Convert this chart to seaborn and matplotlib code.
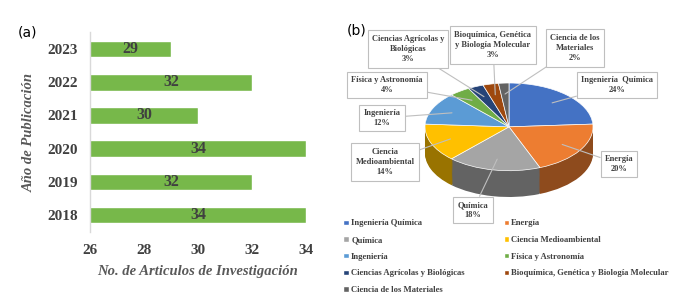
import numpy as np
import pandas as pd
import seaborn as sns
import matplotlib.pyplot as plt
from matplotlib.patches import Patch
from matplotlib.colors import to_rgb

# panel (a) data
years = ["2023", "2022", "2021", "2020", "2019", "2018"]
articles = [29, 32, 30, 34, 32, 34]

# panel (b) data
areas = ["Ingeniería Química", "Energía", "Química", "Ciencia Medioambiental",
         "Ingeniería", "Física y Astronomía", "Ciencias Agrícolas y Biológicas",
         "Bioquímica, Genética y Biología Molecular", "Ciencia de los Materiales"]
shares = [24, 20, 18, 14, 12, 4, 3, 3, 2]
box_labels = ["Ingeniería  Química\n24%", "Energía\n20%", "Química\n18%",
              "Ciencia\nMedioambiental\n14%", "Ingeniería\n12%",
              "Física y Astronomía\n4%", "Ciencias Agrícolas y\nBiológicas\n3%",
              "Bioquímica, Genética\ny Biología Molecular\n3%",
              "Ciencia de los\nMateriales\n2%"]
colors = ["#4472C4", "#ED7D31", "#A5A5A5", "#FFC000", "#5B9BD5",
          "#70AD47", "#264478", "#9E480E", "#636363"]

sns.set_theme(style="white")
plt.rcParams['font.family'] = ['Liberation Serif', 'DejaVu Serif']

W, H = 673, 299
fig = plt.figure(figsize=(W / 100, H / 100), dpi=100)
txt = "#404040"

# ---------- (a) horizontal bars ----------
ax = fig.add_axes([90 / W, 1 - 231.6 / H, 216 / W, 199.2 / H])
df = pd.DataFrame({"year": years, "n": articles})
sns.barplot(data=df, x="n", y="year", orient="h", color="#77B84A",
            saturation=1, width=0.5, ax=ax)
ax.set_xlim(26, 34)
ax.set_xticks([26, 28, 30, 32, 34])
for sp in ["top", "right", "bottom"]:
    ax.spines[sp].set_visible(False)
ax.spines["left"].set_color("#D9D9D9")
ax.spines["left"].set_linewidth(1)
ax.tick_params(axis="x", length=0, pad=9, labelsize=11, labelcolor=txt)
ax.tick_params(axis="y", length=0, pad=9, labelsize=11, labelcolor=txt)
for lab in ax.get_xticklabels() + ax.get_yticklabels():
    lab.set_fontweight("bold")
ax.set_xlabel("No. de Articulos de Investigación", fontsize=10.5, style="italic",
              fontweight="bold", color="#595959", labelpad=6)
ax.set_ylabel("Año de Publicación", fontsize=10.5, style="italic",
              fontweight="bold", color="#595959", labelpad=8)
for i, v in enumerate(articles):
    ax.text((26 + v) / 2, i, str(v), ha="center", va="center", fontsize=11.5,
            fontweight="bold", color=txt)
fig.text(18 / W, 1 - 32 / H, "(a)", fontsize=10, family="DejaVu Sans",
         va="center", color="black")

# ---------- (b) 3D-looking pie ----------
px = fig.add_axes([425 / W, 1 - 197 / H, 168 / W, 114 / H])
depth = 0.6
dark = [tuple(c * 0.6 for c in to_rgb(col)) for col in colors]
for k in np.linspace(depth, 0.02, 25):
    px.pie(shares, colors=dark, startangle=90, counterclock=False,
           center=(0, -k), wedgeprops=dict(linewidth=0))
wedges, _ = px.pie(shares, colors=colors, startangle=90, counterclock=False,
                   center=(0, 0), wedgeprops=dict(edgecolor="white", linewidth=0.5))
px.set_aspect("auto")
px.set_xlim(-1, 1)
px.set_ylim(-1 - depth, 1)
px.axis("off")

# label boxes (centres in pixels)
box_pos = [(617, 85), (619, 164), (473, 210), (385, 162), (382, 118),
           (387, 85), (408, 49), (493, 45), (575, 48)]
cum = 0
for i, (lab, pos) in enumerate(zip(box_labels, box_pos)):
    mid = np.deg2rad(90 - 3.6 * (cum + shares[i] / 2))
    cum += shares[i]
    r = 0.75
    xy = (r * np.cos(mid), r * np.sin(mid))
    px.annotate(lab, xy=xy, xycoords="data",
                xytext=(pos[0] / W, 1 - pos[1] / H), textcoords="figure fraction",
                ha="center", va="center", fontsize=6, fontweight="bold",
                color=txt, linespacing=1.4,
                bbox=dict(boxstyle="square,pad=0.5", fc="white", ec="#BFBFBF", lw=0.8),
                arrowprops=dict(arrowstyle="-", color="#BFBFBF", lw=0.8,
                                shrinkA=0, shrinkB=0))
fig.text(347 / W, 1 - 30 / H, "(b)", fontsize=10, family="DejaVu Sans",
         va="center", color="black")

# legend filled row by row
order = [0, 2, 4, 6, 8, 1, 3, 5, 7]
handles = [Patch(facecolor=colors[i], label=areas[i]) for i in order]
leg = fig.legend(handles=handles, ncol=2, loc="upper left",
                 bbox_to_anchor=(340 / W, 1 - 216 / H), frameon=False,
                 fontsize=6.2, handlelength=0.6, handleheight=0.6,
                 handletextpad=0.3, columnspacing=4.5, labelspacing=1.0,
                 borderaxespad=0)
for t in leg.get_texts():
    t.set_fontweight("bold")
    t.set_color(txt)

fig.savefig("out.png", dpi=100)
